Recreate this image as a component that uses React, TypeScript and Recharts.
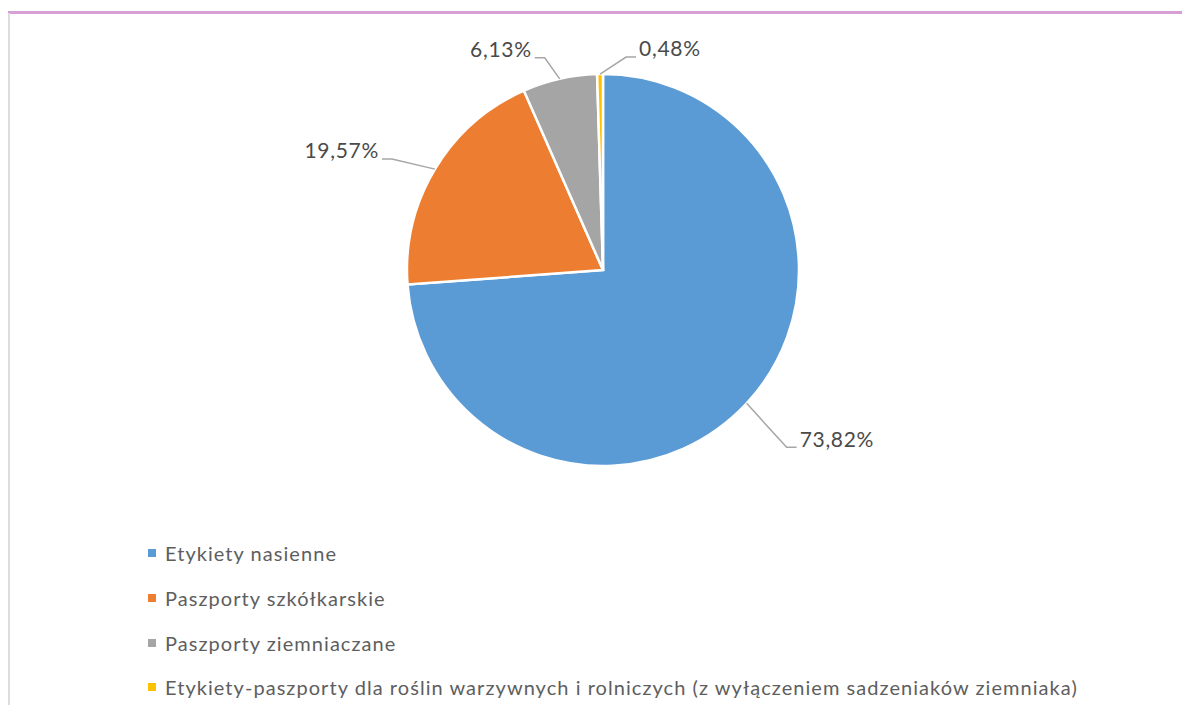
import React from "react";
import { PieChart, Pie, Cell, Legend } from "recharts";

const categories = [
  "Etykiety nasienne",
  "Paszporty szkółkarskie",
  "Paszporty ziemniaczane",
  "Etykiety-paszporty dla roślin warzywnych i rolniczych (z wyłączeniem sadzeniaków ziemniaka)",
];
const shares = [73.82, 19.57, 6.13, 0.48];
const colors = ["#5B9BD5", "#ED7D31", "#A5A5A5", "#FFC000"];

// leader line elbow offsets from slice edge (layout config, not data)
const elbowOffsets = [
  { dx: 40, dy: 44, dir: 1 },
  { dx: -43, dy: -10, dir: -1 },
  { dx: -15, dy: -21, dir: -1 },
  { dx: 26, dy: -17, dir: 1 },
];

const data = categories.map((name, i) => ({ name, value: shares[i] }));

const FONT = "Lato, 'Open Sans', sans-serif";
const RADIAN = Math.PI / 180;

const renderLabel = (props: any) => {
  const { cx, cy, midAngle, outerRadius, index, value } = props;
  const x0 = cx + outerRadius * Math.cos(-midAngle * RADIAN);
  const y0 = cy + outerRadius * Math.sin(-midAngle * RADIAN);
  const o = elbowOffsets[index];
  const x1 = x0 + o.dx;
  const y1 = y0 + o.dy;
  const x2 = x1 + o.dir * 10;
  const text = value.toFixed(2).replace(".", ",") + "%";
  return (
    <g key={`lbl-${index}`}>
      <polyline
        points={`${x0},${y0} ${x1},${y1} ${x2},${y1}`}
        fill="none"
        stroke="#A6A6A6"
        strokeWidth={1.5}
      />
      <text
        x={x2 + o.dir * 3}
        y={y1 - 6}
        textAnchor={o.dir > 0 ? "start" : "end"}
        dominantBaseline="middle"
        fill="#4A4A4A"
        fontSize={21}
        letterSpacing={0.7}
        fontFamily={FONT}
      >
        {text}
      </text>
    </g>
  );
};

const renderLegend = () => (
  <div style={{ fontFamily: FONT }}>
    {categories.map((c, i) => (
      <div
        key={c}
        style={{
          display: "flex",
          alignItems: "center",
          height: 44.7,
          fontSize: 20,
          letterSpacing: 1.05,
          color: "#5E5E5E",
          whiteSpace: "nowrap",
        }}
      >
        <span
          style={{
            display: "inline-block",
            width: 8,
            height: 8,
            background: colors[i],
            marginRight: 9,
          }}
        />
        {c}
      </div>
    ))}
  </div>
);

export default function App() {
  return (
    <div
      style={{
        position: "relative",
        width: 1190,
        height: 713,
        margin: -8,
        background: "#fff",
        overflow: "hidden",
      }}
    >
      <div
        style={{
          position: "absolute",
          left: 8,
          top: 11,
          width: 1182,
          height: 2.5,
          background: "#D6A0D6",
        }}
      />
      <div
        style={{
          position: "absolute",
          left: 8,
          top: 13,
          width: 2,
          height: 700,
          background: "#DCDCDC",
        }}
      />
      <div style={{ position: "absolute", left: 0, top: 0 }}>
        <PieChart width={1190} height={713} margin={{ top: 0, right: 0, bottom: 0, left: 0 }}>
          <Pie
            data={data}
            dataKey="value"
            nameKey="name"
            cx={603}
            cy={270}
            outerRadius={196}
            startAngle={90}
            endAngle={-270}
            stroke="#FFFFFF"
            strokeWidth={2.5}
            label={renderLabel}
            labelLine={false}
            isAnimationActive={false}
          >
            {data.map((d, i) => (
              <Cell key={d.name} fill={colors[i]} />
            ))}
          </Pie>
          <Legend
            content={renderLegend}
            wrapperStyle={{ position: "absolute", left: 148, top: 531, width: "auto" }}
          />
        </PieChart>
      </div>
    </div>
  );
}
